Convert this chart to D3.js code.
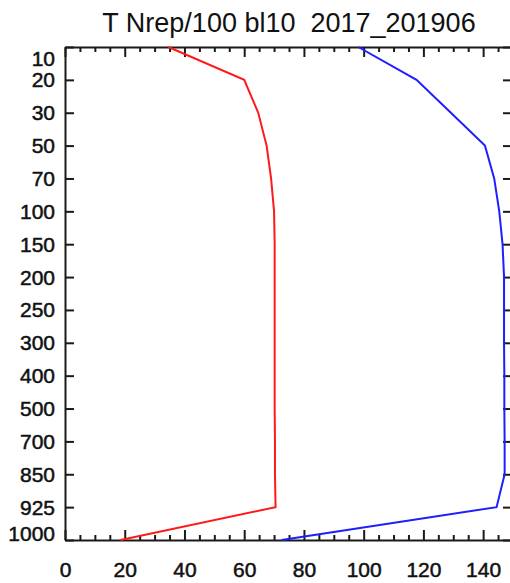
<!DOCTYPE html>
<html>
<head>
<meta charset="utf-8">
<script src="https://cdn.jsdelivr.net/npm/d3@7"></script>
<style>
  html, body { margin: 0; padding: 0; background: #fff; }
  svg { display: block; font-family: "Liberation Sans", Arial, sans-serif; }
  svg text { font-family: "Liberation Sans", Arial, sans-serif; }
  .lbl { font-size: 21px; fill: #111; stroke: #111; stroke-width: 0.5px; }
</style>
</head>
<body>
<svg id="chart" width="510" height="583"></svg>
<script>
// ---- data ----
const titleText = "T Nrep/100 bl10  2017_201906";
const levels = ["10","20","30","50","70","100","150","200","250","300","400","500","700","850","925","1000"];
const redValues  = [34.6, 60.0, 64.7, 67.5, 69.0, 70.0, 70.2, 70.2, 70.2, 70.2, 70.2, 70.2, 70.3, 70.3, 70.5, 18.6];
const blueValues = [98.2, 117.7, 129.2, 140.6, 143.7, 145.4, 146.5, 147.0, 147.0, 147.0, 147.1, 147.1, 147.2, 147.2, 144.5, 72.5];
const xTicks = [0, 20, 40, 60, 80, 100, 120, 140];
const xMinorTicks = d3.range(0, 151, 5).filter(v => v % 20 !== 0);
const xDomain = [0, 150];

// ---- layout ----
const svg = d3.select("#chart");
const L = 65, R = 513, T = 47, B = 540;

const x = d3.scaleLinear().domain(xDomain).range([L, R]);
const y = d3.scalePoint().domain(levels).range([T, B]);

const axisColor = "#1a1a1a";

// title
svg.append("text")
  .attr("x", (L + R) / 2)
  .attr("y", 32)
  .attr("text-anchor", "middle")
  .style("white-space", "pre")
  .style("font-size", "27px")
  .attr("fill", "#111")
  .text(titleText);

// left axis
const gLeft = svg.append("g").attr("transform", `translate(${L},0)`)
  .call(d3.axisLeft(y).tickSizeInner(-9).tickSizeOuter(0).tickPadding(10));
gLeft.attr("font-size", null).attr("font-family", null);
gLeft.selectAll("text").attr("class", "lbl").attr("dy", "7px");
gLeft.selectAll("text").filter(d => d === levels[0]).attr("dy", "18px");
gLeft.selectAll("text").filter(d => d === levels[levels.length - 1]).attr("dy", "0.5px");

// right axis (ticks only, inward)
svg.append("g").attr("transform", `translate(${R},0)`)
  .call(d3.axisRight(y).tickSizeInner(-10).tickSizeOuter(0).tickFormat(""));

// bottom axis: major + minor
const gBottom = svg.append("g").attr("transform", `translate(0,${B})`)
  .call(d3.axisBottom(x).tickValues(xTicks).tickSizeInner(-10).tickSizeOuter(0).tickPadding(22).tickFormat(d3.format("d")));
gBottom.attr("font-size", null).attr("font-family", null);
gBottom.selectAll("text").attr("class", "lbl");
svg.append("g").attr("transform", `translate(0,${B})`)
  .call(d3.axisBottom(x).tickValues(xMinorTicks).tickSizeInner(-5).tickSizeOuter(0).tickFormat(""))
  .select(".domain").remove();

// top axis: major + minor
svg.append("g").attr("transform", `translate(0,${T})`)
  .call(d3.axisTop(x).tickValues(xTicks).tickSizeInner(-10).tickSizeOuter(0).tickFormat(""));
svg.append("g").attr("transform", `translate(0,${T})`)
  .call(d3.axisTop(x).tickValues(xMinorTicks).tickSizeInner(-5).tickSizeOuter(0).tickFormat(""))
  .select(".domain").remove();

svg.selectAll(".domain").attr("stroke", axisColor).attr("stroke-width", 2);
svg.selectAll(".tick line").attr("stroke", axisColor).attr("stroke-width", 2);

// lines
const line = d3.line().x(d => x(d.v)).y(d => y(d.lev));
const mk = vals => levels.map((lev, i) => ({ lev, v: vals[i] }));

svg.append("path").datum(mk(redValues))
  .attr("d", line).attr("fill", "none")
  .attr("stroke", "rgb(255,25,25)").attr("stroke-width", 2);
svg.append("path").datum(mk(blueValues))
  .attr("d", line).attr("fill", "none")
  .attr("stroke", "rgb(30,30,255)").attr("stroke-width", 2);
</script>
</body>
</html>
